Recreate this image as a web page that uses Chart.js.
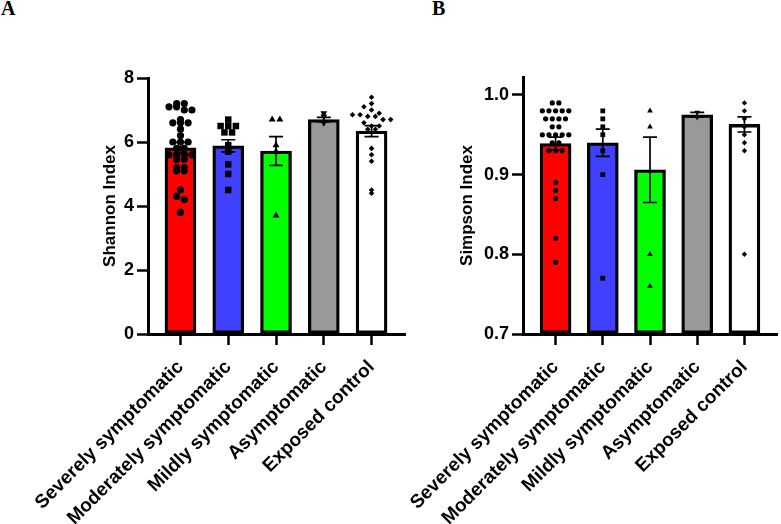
<!DOCTYPE html>
<html>
<head>
<meta charset="utf-8">
<script src="https://cdn.jsdelivr.net/npm/chart.js@4.4.1/dist/chart.umd.min.js"></script>
<style>
  html, body { margin: 0; padding: 0; background: #fff; }
  #wrap { position: relative; width: 781px; height: 524px; overflow: hidden; }
  canvas { position: absolute; top: 0; }
  .tag { position: absolute; top: -3px; font: bold 20px 'Liberation Serif', 'Times New Roman', serif; }
</style>
</head>
<body>
<div id="wrap">
  <div class="tag" style="left:1px">A</div>
  <div class="tag" style="left:432px">B</div>
  <canvas id="shannon" width="415" height="524" style="left:0"></canvas>
  <canvas id="simpson" width="401" height="524" style="left:380px"></canvas>
</div>
<script>
'use strict';

// groups (x categories)
var groups = ['Severely symptomatic', 'Moderately symptomatic', 'Mildly symptomatic', 'Asymptomatic', 'Exposed control'];

// panel A - Shannon index
var shannonTicks = [0, 2, 4, 6, 8];
var shannonMean  = [5.82, 5.88, 5.72, 6.70, 6.34];
var shannonSem   = [0.17, 0.19, 0.45, 0.07, 0.17];
var shannonSevere   = [7.2, 7.2, 7.1, 7.1, 7.0, 7.0, 6.7, 6.6, 6.6, 6.6, 6.4, 6.2, 6.0, 6.0, 6.0, 5.8, 5.8, 5.6, 5.6, 5.6, 5.6, 5.45, 5.45, 5.2, 5.2, 5.1, 5.1, 4.5, 4.3, 4.2, 3.8];
var shannonModerate = [6.7, 6.5, 6.5, 6.5, 6.3, 6.3, 5.9, 5.7, 5.3, 5.0, 4.5];
var shannonMild     = [6.7, 6.7, 5.9, 5.7, 3.7];
var shannonAsym     = [6.9, 6.8, 6.6];
var shannonExposed  = [7.4, 7.2, 7.1, 7.0, 6.9, 6.85, 6.85, 6.8, 6.8, 6.7, 6.7, 6.6, 6.5, 6.5, 6.4, 6.4, 5.8, 5.6, 5.4, 4.5, 4.4];

// panel B - Simpson index
var simpsonTicks = [0.7, 0.8, 0.9, 1.0];
var simpsonMean  = [0.939, 0.940, 0.906, 0.975, 0.963];
var simpsonSem   = [0.008, 0.017, 0.041, 0.003, 0.0095];
var simpsonSevere   = [0.99, 0.99, 0.98, 0.98, 0.98, 0.98, 0.98, 0.97, 0.97, 0.97, 0.97, 0.96, 0.96, 0.95, 0.95, 0.95, 0.95, 0.95, 0.94, 0.94, 0.93, 0.93, 0.93, 0.89, 0.88, 0.87, 0.82, 0.79];
var simpsonModerate = [0.98, 0.97, 0.96, 0.95, 0.93, 0.90, 0.77];
var simpsonMild     = [0.98, 0.96, 0.80, 0.76];
var simpsonAsym     = [0.978, 0.972];
var simpsonExposed  = [0.99, 0.98, 0.97, 0.96, 0.95, 0.94, 0.93, 0.80];

var barColors = ['#ff0000', '#4040ff', '#00ff00', '#999999', '#ffffff'];
var FONT = "'Liberation Sans', Arial, Helvetica, sans-serif";

// spread equal-ish values sideways, rows centred on the group (GraphPad-like scatter)
function swarm(values, group, rowStep, dx) {
    var rows = {};
    values.forEach(function (v) {
        var k = Math.round(v / rowStep);
        (rows[k] = rows[k] || []).push(v);
    });
    var out = [];
    Object.keys(rows).forEach(function (k) {
        var row = rows[k];
        row.forEach(function (v, j) {
            out.push({x: group + (j - (row.length - 1) / 2) * dx, y: v});
        });
    });
    return out;
}

var errorBars = {
    id: 'errorBars',
    afterDatasetDraw: function (chart, args, opts) {
        if (args.index !== 0) return;
        var ctx = chart.ctx, x = chart.scales.x, y = chart.scales.y;
        ctx.save();
        ctx.strokeStyle = '#000';
        ctx.lineWidth = 1.7;
        opts.mean.forEach(function (m, i) {
            var px = x.getPixelForValue(i);
            var hi = y.getPixelForValue(m + opts.sem[i]);
            var lo = y.getPixelForValue(m - opts.sem[i]);
            ctx.beginPath();
            ctx.moveTo(px, hi); ctx.lineTo(px, lo);
            ctx.moveTo(px - 7, hi); ctx.lineTo(px + 7, hi);
            ctx.moveTo(px - 7, lo); ctx.lineTo(px + 7, lo);
            ctx.stroke();
        });
        ctx.restore();
    }
};

function drawPanel(id, o) {
    var styles = [
        {pointStyle: 'circle', radius: o.r[0], rotation: 0},
        {pointStyle: 'rect', radius: o.r[1], rotation: 0},
        {pointStyle: 'triangle', radius: o.r[2], rotation: 0},
        {pointStyle: 'triangle', radius: o.r[3], rotation: 180},
        {pointStyle: 'rectRot', radius: o.r[4], rotation: 0}
    ];

    var datasets = [{
        type: 'bar',
        order: 1,
        data: o.mean.map(function (m, i) { return {x: i, y: m}; }),
        backgroundColor: barColors,
        borderColor: '#000',
        borderWidth: 3.3,
        borderSkipped: false,
        barThickness: 31,
        base: o.ticks[0]
    }];

    o.points.forEach(function (vals, i) {
        datasets.push({
            type: 'scatter',
            order: 0,
            data: swarm(vals, i, o.rowStep, o.dx),
            pointStyle: styles[i].pointStyle,
            pointRadius: styles[i].radius,
            pointRotation: styles[i].rotation,
            pointBackgroundColor: '#000',
            pointBorderColor: '#000',
            pointBorderWidth: 0
        });
    });

    return new Chart(document.getElementById(id), {
        type: 'bar',
        data: {datasets: datasets},
        plugins: [errorBars],
        options: {
            responsive: false,
            animation: false,
            events: [],
            layout: {padding: o.padding},
            plugins: {
                legend: {display: false},
                tooltip: {enabled: false},
                errorBars: {mean: o.mean, sem: o.sem}
            },
            scales: {
                x: {
                    type: 'linear',
                    min: o.xMin,
                    max: o.xMax,
                    offset: false,
                    afterFit: function (s) { s.height = 190; },
                    afterBuildTicks: function (s) { s.ticks = groups.map(function (g, i) { return {value: i}; }); },
                    grid: {display: true, drawOnChartArea: false, drawTicks: true, offset: false,
                           tickLength: 11, tickWidth: 2.5, tickColor: '#000'},
                    border: {display: true, color: '#000', width: 3, z: 1},
                    ticks: {
                        autoSkip: false, minRotation: 45, maxRotation: 45, padding: 11,
                        color: '#000', font: {family: FONT, size: 19, weight: 'bold'},
                        callback: function (v) { return groups[v]; }
                    }
                },
                y: {
                    min: o.ticks[0],
                    max: o.yMax,
                    afterFit: function (s) { s.width = o.yWidth; },
                    afterBuildTicks: function (s) { s.ticks = o.ticks.map(function (v) { return {value: v}; }); },
                    grid: {display: true, drawOnChartArea: false, drawTicks: true,
                           tickLength: 11, tickWidth: 2.5, tickColor: '#000'},
                    border: {display: true, color: '#000', width: 3, z: 1},
                    ticks: {
                        padding: 3, color: '#000', font: {family: FONT, size: 18, weight: 'bold'},
                        callback: function (v) { return o.decimals ? v.toFixed(o.decimals) : String(v); }
                    },
                    title: {display: true, text: o.title, color: '#000', padding: 0,
                            font: {family: FONT, size: 17, weight: 'bold'}}
                }
            }
        }
    });
}

drawPanel('shannon', {
    title: 'Shannon Index',
    ticks: shannonTicks, yMax: 8, decimals: 0,
    mean: shannonMean, sem: shannonSem,
    points: [shannonSevere, shannonModerate, shannonMild, shannonAsym, shannonExposed],
    r: [3.6, 4.6, 4.0, 4.0, 2.8],
    rowStep: 0.2, dx: 0.16,
    xMin: -0.68, xMax: 4.7,
    yWidth: 48,
    padding: {left: 100, top: 78, right: 10, bottom: 0}
});

drawPanel('simpson', {
    title: 'Simpson Index',
    ticks: simpsonTicks, yMax: 1.0225, decimals: 1,
    mean: simpsonMean, sem: simpsonSem,
    points: [simpsonSevere, simpsonModerate, simpsonMild, simpsonAsym, simpsonExposed],
    r: [2.6, 3.4, 3.3, 3.3, 2.7],
    rowStep: 0.01, dx: 0.14,
    xMin: -0.69, xMax: 4.69,
    yWidth: 66,
    padding: {left: 77, top: 77, right: 1, bottom: 0}
});
</script>
</body>
</html>
